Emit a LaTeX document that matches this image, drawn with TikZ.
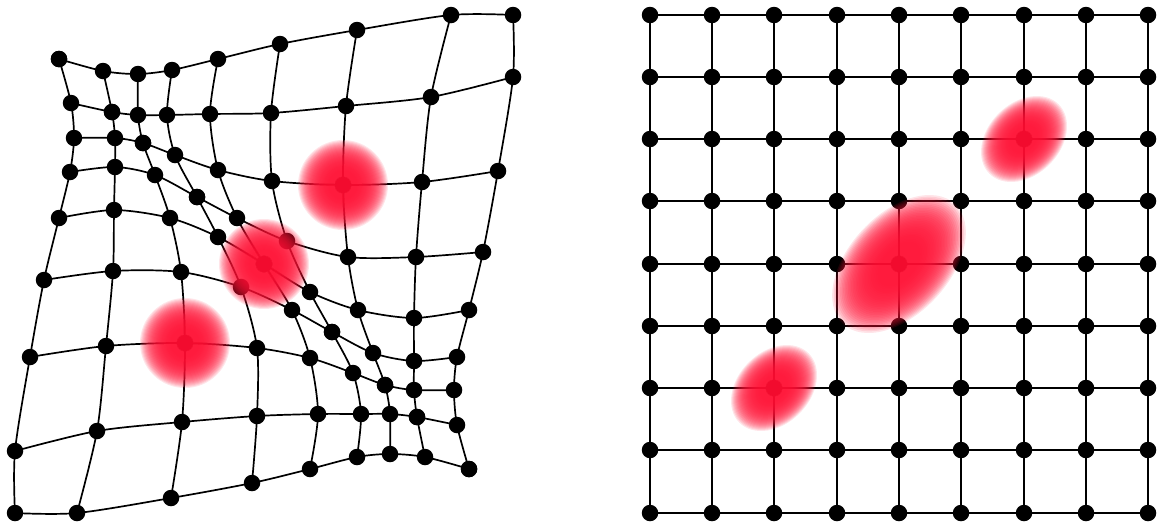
\documentclass[tikz,border=0pt]{standalone}
\usetikzlibrary{backgrounds}
\definecolor{blobred}{RGB}{255,20,55}
\begin{document}
\begin{tikzpicture}[x=1pt,y=-1pt,
  dot/.style={circle,fill=black,inner sep=0pt,minimum size=16.5pt},
  gridline/.style={line width=1.7pt,black},
  bloblayer/.style={fill=blobred,fill opacity=0.11}]
\useasboundingbox (0,0) rectangle (1158,528);
% left (distorted) grid, symmetric about the diagonal
\foreach \i/\j/\x/\y in {
  0/0/59/59, 0/1/103/71, 0/2/138/74, 0/3/172/70, 0/4/218/59, 0/5/280/44, 0/6/357/30, 0/7/451/15, 0/8/513/15,
  1/1/112/112, 1/2/138/115, 1/3/167/115, 1/4/210/114, 1/5/271/113, 1/6/346/106, 1/7/431/97, 1/8/513/77,
  2/2/143/143, 2/3/175/155, 2/4/218/170, 2/5/272/181, 2/6/343/185, 2/7/422/182, 2/8/498/171,
  3/3/197/197, 3/4/237/218, 3/5/287/241, 3/6/348/257, 3/7/416/257, 3/8/483/252,
  4/4/264/264, 4/5/310/292, 4/6/358/310, 4/7/414/318, 4/8/469/310,
  5/5/332/332, 5/6/373/353, 5/7/414/361, 5/8/457/357,
  6/6/385/385, 6/7/414/390, 6/8/454/390,
  7/7/417/417, 7/8/457/425,
  8/8/469/469} {
  \node[dot] (L-\i-\j) at (\x,\y) {};
  \node[dot] (L-\j-\i) at (\y,\x) {};
}
% right (regular) grid
\foreach \i/\y in {0/15,1/77,2/139,3/201,4/264,5/326,6/388,7/450,8/513} {
  \foreach \j/\x in {0/650,1/712,2/774,3/837,4/899,5/961,6/1024,7/1086,8/1148} {
    \node[dot] (R-\i-\j) at (\x,\y) {};
  }
}
\begin{pgfonlayer}{background}
\foreach \i in {0,...,8} {
  \draw[gridline] plot[smooth] coordinates {(L-\i-0.center) (L-\i-1.center) (L-\i-2.center) (L-\i-3.center) (L-\i-4.center) (L-\i-5.center) (L-\i-6.center) (L-\i-7.center) (L-\i-8.center)};
  \draw[gridline] plot[smooth] coordinates {(L-0-\i.center) (L-1-\i.center) (L-2-\i.center) (L-3-\i.center) (L-4-\i.center) (L-5-\i.center) (L-6-\i.center) (L-7-\i.center) (L-8-\i.center)};
  \draw[gridline] (R-\i-0.center) -- (R-\i-8.center);
  \draw[gridline] (R-0-\i.center) -- (R-8-\i.center);
}
\end{pgfonlayer}
% blobs: stacked translucent layers give a soft edge
\foreach \c/\a/\b/\r in {L-2-6/45/45/0, L-4-4/45/45/0, L-6-2/45/45/0,
                         R-4-4/82/50/47, R-2-6/49/36/45, R-6-2/49/36/45} {
  \foreach \k in {1,...,30} {
    \fill[bloblayer, shift={(\c.center)}, rotate=\r]
      (0,0) ellipse [x radius={\a*(0.3+0.7*\k/30)}, y radius={\b*(0.3+0.7*\k/30)}];
  }
}
\end{tikzpicture}
\end{document}
